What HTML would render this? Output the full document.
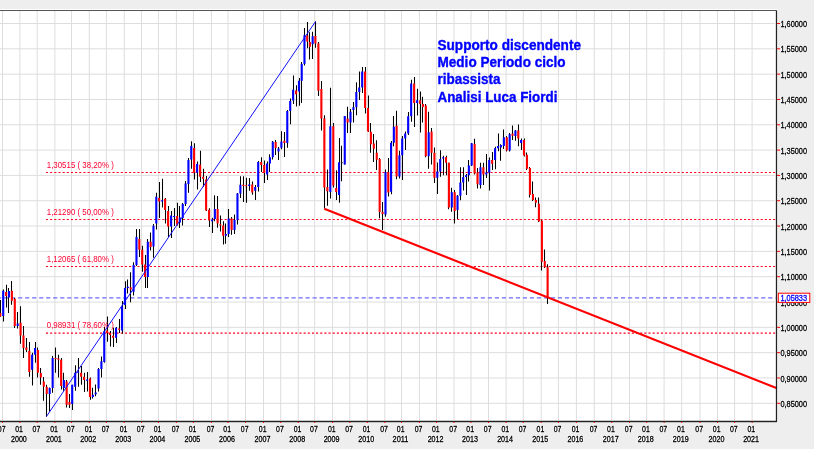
<!DOCTYPE html>
<html><head><meta charset="utf-8"><style>
html,body{margin:0;padding:0;background:#eeeeee;}
body{width:814px;height:449px;overflow:hidden;}
svg{display:block;will-change:transform;}
text{font-family:"Liberation Sans",sans-serif;}
.ax{font-size:8.2px;fill:#000;stroke:#000;stroke-width:0.3px;}
.axh{font-size:8.2px;fill:#fff;stroke:#fff;stroke-width:1.6px;stroke-linejoin:round;opacity:0.8}
.fib{font-size:8.2px;fill:#ff0030;}
.ann{font-size:14.2px;font-weight:bold;fill:#0000ff;stroke:#0000ff;stroke-width:0.35px;}
</style></head><body>
<svg width="814" height="449" viewBox="0 0 814 449">
<rect x="0" y="0" width="814" height="449" fill="#eeeeee"/>
<rect x="0" y="9" width="778" height="413.5" fill="#ffffff"/>
<path d="M2.50 10.5V420.0M19.90 10.5V420.0M37.20 10.5V420.0M54.90 10.5V420.0M71.50 10.5V420.0M89.30 10.5V420.0M106.40 10.5V420.0M124.30 10.5V420.0M141.50 10.5V420.0M158.40 10.5V420.0M176.40 10.5V420.0M193.40 10.5V420.0M211.40 10.5V420.0M228.00 10.5V420.0M245.50 10.5V420.0M263.50 10.5V420.0M280.70 10.5V420.0M298.30 10.5V420.0M314.70 10.5V420.0M332.60 10.5V420.0M349.80 10.5V420.0M367.30 10.5V420.0M384.80 10.5V420.0M401.50 10.5V420.0M419.40 10.5V420.0M436.60 10.5V420.0M454.00 10.5V420.0M471.00 10.5V420.0M488.50 10.5V420.0M506.10 10.5V420.0M523.30 10.5V420.0M541.20 10.5V420.0M558.40 10.5V420.0M576.40 10.5V420.0M594.30 10.5V420.0M611.70 10.5V420.0M629.50 10.5V420.0M646.70 10.5V420.0M664.10 10.5V420.0M681.70 10.5V420.0M700.00 10.5V420.0M717.50 10.5V420.0M734.60 10.5V420.0M752.10 10.5V420.0M0 23.50H774.70M0 48.82H774.70M0 74.14H774.70M0 99.46H774.70M0 124.78H774.70M0 150.10H774.70M0 175.42H774.70M0 200.74H774.70M0 226.06H774.70M0 251.38H774.70M0 276.70H774.70M0 302.02H774.70M0 327.34H774.70M0 352.66H774.70M0 377.98H774.70M0 403.30H774.70" stroke="#dddddd" stroke-width="1" fill="none"/>
<path d="M45.97 172.50H775.70M45.97 219.45H775.70M45.97 266.45H775.70M45.97 333.10H775.70" stroke="#ff0020" stroke-width="1.05" stroke-dasharray="2.1 2.055" fill="none"/>
<path d="M-2.93 297.80H775.70" stroke="#6a6aff" stroke-width="1.35" stroke-dasharray="4.2 2.81" fill="none"/>
<path d="M0.50 300.00V316.80M3.50 289.40V321.40M6.50 284.70V307.40M8.50 288.00V313.00M11.50 281.00V304.70M14.50 298.00V328.00M17.50 312.00V328.50M20.50 306.20V343.70M23.50 326.00V357.90M26.50 338.00V352.00M29.50 342.00V376.80M32.50 352.70V385.50M35.50 342.00V362.70M37.50 347.40V377.50M40.50 368.00V384.70M43.50 377.10V400.80M46.50 384.70V416.80M49.50 387.40V411.50M52.50 356.00V392.70M55.50 347.40V372.80M58.50 354.70V377.50M61.50 358.00V389.50M63.50 372.70V390.70M66.50 380.00V407.50M69.50 394.00V408.10M72.50 384.70V410.10M75.50 365.30V390.70M78.50 358.00V386.70M81.50 366.00V384.70M84.50 372.70V392.10M87.50 372.00V391.40M90.50 377.50V399.80M92.50 387.70V398.60M95.50 384.60V396.30M98.50 368.00V391.60M101.50 356.50V377.60M104.50 327.00V362.80M107.50 316.40V341.80M110.50 331.10V346.50M113.50 327.80V347.10M116.50 327.00V343.10M119.50 319.00V333.10M122.50 301.00V333.80M125.50 281.20V309.00M127.50 279.50V293.40M130.50 272.30V302.30M133.50 262.20V295.60M136.50 229.00V266.00M139.50 229.00V257.10M142.50 245.70V271.80M145.50 255.00V288.00M147.50 239.00V288.00M150.50 232.40V250.40M153.50 224.00V257.80M156.50 192.70V229.50M159.50 182.00V218.10M162.50 178.70V207.40M165.50 198.00V223.50M168.50 206.00V237.10M171.50 211.00V238.10M174.50 208.00V226.00M177.50 202.70V225.50M179.50 206.00V228.10M182.50 203.00V225.60M185.50 181.00V206.00M188.50 158.00V192.80M191.50 141.30V168.70M194.50 143.30V179.40M197.50 161.40V189.50M200.50 150.70V182.10M203.50 168.70V186.80M206.50 176.10V211.00M209.50 208.20V227.10M212.50 217.70V232.90M214.50 195.20V221.30M217.50 196.00V227.80M220.50 215.50V231.40M223.50 221.30V244.50M225.50 223.50V243.80M228.50 209.00V237.00M231.50 217.00V234.70M234.50 214.50V234.00M237.50 193.00V224.60M240.50 176.20V198.00M243.50 176.20V202.00M246.50 177.80V202.80M249.50 178.00V190.80M252.50 181.50V194.70M255.50 185.00V200.00M258.50 161.00V191.60M261.50 157.30V172.10M264.50 160.40V183.00M267.50 161.50V179.90M269.50 154.20V172.10M272.50 140.90V159.60M275.50 140.10V155.00M278.50 146.90V160.00M281.50 131.30V149.30M284.50 132.10V157.10M287.50 110.00V147.70M290.50 98.60V124.30M293.50 75.40V104.00M296.50 85.20V106.60M299.50 78.10V105.70M301.50 62.00V103.00M304.50 28.00V65.60M307.50 22.10V48.30M309.50 32.30V59.40M312.50 31.80V59.00M315.50 21.40V47.80M318.50 42.10V96.10M321.50 81.00V130.40M324.50 115.30V208.60M327.50 169.60V205.80M330.50 87.80V198.50M333.50 123.10V187.60M336.50 170.30V200.00M339.50 137.90V202.80M341.50 145.70V181.20M344.50 116.00V164.50M347.50 106.70V133.00M350.50 109.00V133.00M353.50 101.90V122.40M356.50 82.30V115.20M359.50 71.60V100.00M362.50 67.10V93.00M365.50 67.10V113.50M368.50 95.50V132.00M370.50 123.10V152.70M373.50 134.00V162.10M376.50 140.30V169.90M379.50 158.00V218.30M382.50 202.00V230.00M385.50 169.50V216.80M388.50 157.90V196.50M391.50 141.00V194.20M393.50 116.00V146.30M396.50 110.70V179.30M399.50 150.80V178.40M402.50 136.00V180.00M405.50 131.50V150.00M408.50 111.90V135.00M411.50 79.80V121.70M414.50 77.10V127.00M417.50 88.70V115.40M420.50 91.40V132.40M422.50 96.70V122.60M425.50 104.00V157.20M428.50 111.80V168.80M431.50 128.00V164.40M434.50 147.40V183.00M437.50 162.60V194.00M440.50 150.30V176.80M443.50 155.70V175.30M446.50 155.70V175.30M448.50 162.70V209.20M451.50 187.80V211.80M454.50 190.00V223.40M457.50 195.00V219.00M460.50 167.30V200.30M463.50 167.30V190.40M466.50 174.00V194.90M468.50 160.10V181.50M471.50 143.00V166.00M474.50 138.70V174.40M477.50 168.10V188.60M480.50 162.80V188.60M483.50 162.80V185.10M486.50 153.90V177.90M489.50 157.60V190.40M492.50 152.10V169.90M495.50 146.70V169.30M498.50 133.40V151.30M500.50 144.30V160.70M503.50 129.50V149.00M506.50 136.00V151.50M509.50 133.00V151.50M512.50 125.60V140.00M515.50 130.00V140.70M518.50 124.40V146.20M521.50 138.50V150.10M524.50 138.50V156.50M526.50 152.40V170.00M529.50 167.00V197.40M532.50 181.40V201.00M535.50 197.40V207.20M538.50 197.40V222.00M541.50 220.00V270.40M544.50 249.40V268.00M547.50 264.20V304.00" stroke="#000" stroke-width="1.05" fill="none"/>
<path d="M-0.75 313.00h2.1v3.50h-2.1zM5.05 292.00h2.1v4.00h-2.1zM10.85 290.70h2.1v10.00h-2.1zM13.75 298.70h2.1v27.40h-2.1zM19.55 322.80h2.1v12.80h-2.1zM22.43 335.60h2.1v12.50h-2.1zM25.32 347.40h2.1v2.60h-2.1zM28.20 350.70h2.1v21.40h-2.1zM36.85 350.00h2.1v22.80h-2.1zM39.80 373.00h2.1v4.40h-2.1zM42.75 381.40h2.1v5.30h-2.1zM45.70 386.70h2.1v7.40h-2.1zM54.55 358.00h2.1v1.10h-2.1zM57.32 358.50h2.1v1.20h-2.1zM60.08 359.70h2.1v26.40h-2.1zM65.62 381.40h2.1v23.40h-2.1zM68.38 402.10h2.1v2.70h-2.1zM80.05 372.70h2.1v4.00h-2.1zM83.02 376.70h2.1v3.30h-2.1zM88.95 378.50h2.1v18.50h-2.1zM106.05 330.40h2.1v2.70h-2.1zM109.03 333.10h2.1v2.00h-2.1zM112.02 335.80h2.1v2.00h-2.1zM117.98 328.40h2.1v1.40h-2.1zM129.68 287.30h2.1v2.20h-2.1zM138.28 239.00h2.1v10.70h-2.1zM141.15 249.70h2.1v14.70h-2.1zM143.97 264.40h2.1v12.70h-2.1zM149.60 241.70h2.1v5.40h-2.1zM158.05 198.00h2.1v3.40h-2.1zM164.05 198.70h2.1v11.40h-2.1zM167.05 211.00h2.1v15.60h-2.1zM176.05 216.10h2.1v8.70h-2.1zM193.05 148.00h2.1v24.80h-2.1zM199.05 164.70h2.1v12.10h-2.1zM202.05 176.80h2.1v2.00h-2.1zM205.05 179.40h2.1v31.00h-2.1zM208.05 209.70h2.1v10.80h-2.1zM216.58 209.00h2.1v14.50h-2.1zM219.35 224.20h2.1v1.40h-2.1zM222.12 225.60h2.1v10.20h-2.1zM230.57 218.40h2.1v11.60h-2.1zM242.23 184.80h2.1v1.10h-2.1zM245.15 185.20h2.1v1.00h-2.1zM251.15 184.60h2.1v7.80h-2.1zM260.15 162.00h2.1v3.10h-2.1zM263.15 165.10h2.1v7.80h-2.1zM274.62 142.00h2.1v6.00h-2.1zM283.28 140.70h2.1v2.30h-2.1zM295.02 90.60h2.1v3.60h-2.1zM306.15 35.50h2.1v5.90h-2.1zM308.88 41.90h2.1v4.80h-2.1zM314.35 36.00h2.1v7.50h-2.1zM317.33 43.60h2.1v47.20h-2.1zM320.32 89.00h2.1v29.40h-2.1zM323.30 118.40h2.1v69.20h-2.1zM326.28 187.00h2.1v4.30h-2.1zM332.25 126.20h2.1v59.30h-2.1zM335.12 188.00h2.1v4.00h-2.1zM346.58 118.80h2.1v3.60h-2.1zM364.03 71.60h2.1v36.50h-2.1zM366.95 108.10h2.1v23.40h-2.1zM369.87 131.70h2.1v12.50h-2.1zM372.78 143.40h2.1v5.40h-2.1zM375.70 152.70h2.1v7.10h-2.1zM378.62 159.00h2.1v53.10h-2.1zM381.53 211.80h2.1v2.20h-2.1zM387.23 172.20h2.1v20.40h-2.1zM395.58 125.80h2.1v50.80h-2.1zM413.08 83.40h2.1v19.60h-2.1zM419.05 100.30h2.1v3.60h-2.1zM421.92 104.00h2.1v3.00h-2.1zM424.78 105.60h2.1v50.70h-2.1zM430.52 131.40h2.1v21.40h-2.1zM433.38 152.80h2.1v24.90h-2.1zM444.95 157.30h2.1v5.40h-2.1zM447.85 162.80h2.1v44.60h-2.1zM453.65 192.20h2.1v18.80h-2.1zM473.57 144.10h2.1v29.40h-2.1zM476.48 172.60h2.1v11.60h-2.1zM482.32 167.20h2.1v7.20h-2.1zM491.08 160.10h2.1v3.60h-2.1zM505.75 137.30h2.1v13.30h-2.1zM511.48 133.40h2.1v2.30h-2.1zM517.22 130.60h2.1v7.80h-2.1zM522.95 140.00h2.1v15.60h-2.1zM525.93 154.80h2.1v14.00h-2.1zM528.92 168.00h2.1v26.70h-2.1zM531.90 193.90h2.1v6.20h-2.1zM534.88 200.10h2.1v2.70h-2.1zM537.87 203.70h2.1v17.80h-2.1zM540.85 220.60h2.1v41.20h-2.1zM543.72 261.00h2.1v6.30h-2.1zM546.58 267.30h2.1v30.40h-2.1z" fill="#ff0000"/>
<path d="M2.15 290.70h2.1v25.40h-2.1zM7.95 291.10h2.1v6.30h-2.1zM16.65 323.50h2.1v2.40h-2.1zM31.08 354.70h2.1v15.10h-2.1zM33.97 348.00h2.1v6.70h-2.1zM48.65 388.00h2.1v6.10h-2.1zM51.60 358.00h2.1v30.00h-2.1zM62.85 380.00h2.1v8.00h-2.1zM71.15 384.70h2.1v19.40h-2.1zM74.12 372.70h2.1v14.00h-2.1zM77.08 371.40h2.1v1.30h-2.1zM85.98 379.40h2.1v1.30h-2.1zM91.80 394.70h2.1v2.40h-2.1zM94.65 392.40h2.1v1.90h-2.1zM97.50 369.00h2.1v19.50h-2.1zM100.35 361.20h2.1v7.80h-2.1zM103.20 331.30h2.1v30.70h-2.1zM115.00 327.80h2.1v10.00h-2.1zM120.97 306.40h2.1v24.00h-2.1zM123.95 287.90h2.1v17.10h-2.1zM126.82 286.70h2.1v1.20h-2.1zM132.55 265.00h2.1v26.70h-2.1zM135.42 237.00h2.1v28.00h-2.1zM146.78 241.70h2.1v35.40h-2.1zM152.42 225.70h2.1v20.70h-2.1zM155.23 196.70h2.1v26.80h-2.1zM161.05 200.30h2.1v1.10h-2.1zM170.05 215.50h2.1v11.10h-2.1zM173.05 216.00h2.1v1.00h-2.1zM178.88 217.60h2.1v5.00h-2.1zM181.72 204.10h2.1v13.90h-2.1zM184.55 183.40h2.1v20.70h-2.1zM187.38 160.00h2.1v24.10h-2.1zM190.22 146.00h2.1v13.40h-2.1zM196.05 164.10h2.1v8.70h-2.1zM211.05 219.40h2.1v1.90h-2.1zM213.82 209.00h2.1v10.10h-2.1zM224.88 233.90h2.1v1.90h-2.1zM227.65 218.40h2.1v15.60h-2.1zM233.48 219.90h2.1v10.10h-2.1zM236.40 193.40h2.1v26.50h-2.1zM239.32 184.80h2.1v8.60h-2.1zM248.15 184.60h2.1v1.50h-2.1zM254.15 186.90h2.1v3.90h-2.1zM257.15 162.00h2.1v24.90h-2.1zM266.02 163.50h2.1v11.00h-2.1zM268.88 157.30h2.1v6.20h-2.1zM271.75 141.70h2.1v15.60h-2.1zM277.48 148.50h2.1v3.10h-2.1zM280.35 141.50h2.1v6.20h-2.1zM286.22 111.00h2.1v32.00h-2.1zM289.15 100.90h2.1v10.10h-2.1zM292.08 89.70h2.1v10.70h-2.1zM297.95 80.80h2.1v10.70h-2.1zM300.68 63.90h2.1v16.90h-2.1zM303.42 35.30h2.1v28.60h-2.1zM311.62 36.20h2.1v8.10h-2.1zM329.27 126.20h2.1v65.80h-2.1zM337.98 162.30h2.1v32.60h-2.1zM343.72 116.10h2.1v48.30h-2.1zM349.45 111.70h2.1v10.70h-2.1zM352.37 107.20h2.1v2.70h-2.1zM355.28 92.10h2.1v15.10h-2.1zM358.20 87.60h2.1v4.50h-2.1zM361.12 71.60h2.1v16.00h-2.1zM384.45 172.20h2.1v42.30h-2.1zM390.02 142.80h2.1v49.00h-2.1zM392.80 126.70h2.1v16.10h-2.1zM398.37 155.20h2.1v21.40h-2.1zM401.15 138.50h2.1v16.70h-2.1zM404.13 133.60h2.1v4.90h-2.1zM407.12 116.30h2.1v17.30h-2.1zM410.10 83.40h2.1v32.90h-2.1zM416.07 100.30h2.1v2.70h-2.1zM427.65 132.30h2.1v24.00h-2.1zM436.25 171.50h2.1v6.20h-2.1zM439.15 159.00h2.1v12.50h-2.1zM442.05 157.30h2.1v1.30h-2.1zM450.75 192.20h2.1v15.20h-2.1zM456.48 195.80h2.1v14.20h-2.1zM459.32 182.40h2.1v13.40h-2.1zM462.15 177.10h2.1v5.30h-2.1zM464.98 175.30h2.1v1.80h-2.1zM467.82 165.40h2.1v9.80h-2.1zM470.65 143.20h2.1v22.20h-2.1zM479.40 167.20h2.1v17.90h-2.1zM485.23 172.60h2.1v1.80h-2.1zM488.15 160.10h2.1v12.50h-2.1zM494.02 148.20h2.1v11.70h-2.1zM496.95 145.90h2.1v2.30h-2.1zM499.88 145.10h2.1v2.30h-2.1zM502.82 137.30h2.1v8.60h-2.1zM508.62 134.20h2.1v16.40h-2.1zM514.35 130.60h2.1v5.40h-2.1zM520.08 140.00h2.1v3.10h-2.1z" fill="#0000ff"/>
<path d="M340.85 162.20h2.1v1.00h-2.1z" fill="#333"/>
<text x="46.8" y="167.60" class="fib" textLength="67" lengthAdjust="spacingAndGlyphs">1,30515 ( 38,20% )</text>
<text x="46.8" y="214.55" class="fib" textLength="67" lengthAdjust="spacingAndGlyphs">1,21290 ( 50,00% )</text>
<text x="46.8" y="261.55" class="fib" textLength="67" lengthAdjust="spacingAndGlyphs">1,12065 ( 61,80% )</text>
<text x="46.8" y="328.20" class="fib" textLength="67" lengthAdjust="spacingAndGlyphs">0,98931 ( 78,60% )</text>
<path d="M46.3 416.7L315.6 21.4" stroke="#1010ff" stroke-width="1.0" fill="none"/>
<path d="M324.3 208.7L777 388.3" stroke="#ff0000" stroke-width="2.15" fill="none"/>
<path d="M0 10.5H776.5" stroke="#555" stroke-width="1.2" fill="none"/>
<path d="M776.5 10.5V421.5H0" stroke="#222" stroke-width="1.3" fill="none"/>
<text x="780.40" y="27.10" class="axh" textLength="26.7" lengthAdjust="spacingAndGlyphs">1,60000</text>
<text x="780.40" y="27.10" class="ax" textLength="26.7" lengthAdjust="spacingAndGlyphs">1,60000</text>
<text x="780.40" y="52.42" class="axh" textLength="26.7" lengthAdjust="spacingAndGlyphs">1,55000</text>
<text x="780.40" y="52.42" class="ax" textLength="26.7" lengthAdjust="spacingAndGlyphs">1,55000</text>
<text x="780.40" y="77.74" class="axh" textLength="26.7" lengthAdjust="spacingAndGlyphs">1,50000</text>
<text x="780.40" y="77.74" class="ax" textLength="26.7" lengthAdjust="spacingAndGlyphs">1,50000</text>
<text x="780.40" y="103.06" class="axh" textLength="26.7" lengthAdjust="spacingAndGlyphs">1,45000</text>
<text x="780.40" y="103.06" class="ax" textLength="26.7" lengthAdjust="spacingAndGlyphs">1,45000</text>
<text x="780.40" y="128.38" class="axh" textLength="26.7" lengthAdjust="spacingAndGlyphs">1,40000</text>
<text x="780.40" y="128.38" class="ax" textLength="26.7" lengthAdjust="spacingAndGlyphs">1,40000</text>
<text x="780.40" y="153.70" class="axh" textLength="26.7" lengthAdjust="spacingAndGlyphs">1,35000</text>
<text x="780.40" y="153.70" class="ax" textLength="26.7" lengthAdjust="spacingAndGlyphs">1,35000</text>
<text x="780.40" y="179.02" class="axh" textLength="26.7" lengthAdjust="spacingAndGlyphs">1,30000</text>
<text x="780.40" y="179.02" class="ax" textLength="26.7" lengthAdjust="spacingAndGlyphs">1,30000</text>
<text x="780.40" y="204.34" class="axh" textLength="26.7" lengthAdjust="spacingAndGlyphs">1,25000</text>
<text x="780.40" y="204.34" class="ax" textLength="26.7" lengthAdjust="spacingAndGlyphs">1,25000</text>
<text x="780.40" y="229.66" class="axh" textLength="26.7" lengthAdjust="spacingAndGlyphs">1,20000</text>
<text x="780.40" y="229.66" class="ax" textLength="26.7" lengthAdjust="spacingAndGlyphs">1,20000</text>
<text x="780.40" y="254.98" class="axh" textLength="26.7" lengthAdjust="spacingAndGlyphs">1,15000</text>
<text x="780.40" y="254.98" class="ax" textLength="26.7" lengthAdjust="spacingAndGlyphs">1,15000</text>
<text x="780.40" y="280.30" class="axh" textLength="26.7" lengthAdjust="spacingAndGlyphs">1,10000</text>
<text x="780.40" y="280.30" class="ax" textLength="26.7" lengthAdjust="spacingAndGlyphs">1,10000</text>
<text x="780.40" y="305.62" class="axh" textLength="26.7" lengthAdjust="spacingAndGlyphs">1,05000</text>
<text x="780.40" y="305.62" class="ax" textLength="26.7" lengthAdjust="spacingAndGlyphs">1,05000</text>
<text x="780.40" y="330.94" class="axh" textLength="26.7" lengthAdjust="spacingAndGlyphs">1,00000</text>
<text x="780.40" y="330.94" class="ax" textLength="26.7" lengthAdjust="spacingAndGlyphs">1,00000</text>
<text x="780.40" y="356.26" class="axh" textLength="26.7" lengthAdjust="spacingAndGlyphs">0,95000</text>
<text x="780.40" y="356.26" class="ax" textLength="26.7" lengthAdjust="spacingAndGlyphs">0,95000</text>
<text x="780.40" y="381.58" class="axh" textLength="26.7" lengthAdjust="spacingAndGlyphs">0,90000</text>
<text x="780.40" y="381.58" class="ax" textLength="26.7" lengthAdjust="spacingAndGlyphs">0,90000</text>
<text x="780.40" y="406.90" class="axh" textLength="26.7" lengthAdjust="spacingAndGlyphs">0,85000</text>
<text x="780.40" y="406.90" class="ax" textLength="26.7" lengthAdjust="spacingAndGlyphs">0,85000</text>
<path d="M777.10 23.50H780.10M777.10 48.82H780.10M777.10 74.14H780.10M777.10 99.46H780.10M777.10 124.78H780.10M777.10 150.10H780.10M777.10 175.42H780.10M777.10 200.74H780.10M777.10 226.06H780.10M777.10 251.38H780.10M777.10 276.70H780.10M777.10 302.02H780.10M777.10 327.34H780.10M777.10 352.66H780.10M777.10 377.98H780.10M777.10 403.30H780.10M2.50 421.80V423.00M19.90 421.80V423.00M37.20 421.80V423.00M54.90 421.80V423.00M71.50 421.80V423.00M89.30 421.80V423.00M106.40 421.80V423.00M124.30 421.80V423.00M141.50 421.80V423.00M158.40 421.80V423.00M176.40 421.80V423.00M193.40 421.80V423.00M211.40 421.80V423.00M228.00 421.80V423.00M245.50 421.80V423.00M263.50 421.80V423.00M280.70 421.80V423.00M298.30 421.80V423.00M314.70 421.80V423.00M332.60 421.80V423.00M349.80 421.80V423.00M367.30 421.80V423.00M384.80 421.80V423.00M401.50 421.80V423.00M419.40 421.80V423.00M436.60 421.80V423.00M454.00 421.80V423.00M471.00 421.80V423.00M488.50 421.80V423.00M506.10 421.80V423.00M523.30 421.80V423.00M541.20 421.80V423.00M558.40 421.80V423.00M576.40 421.80V423.00M594.30 421.80V423.00M611.70 421.80V423.00M629.50 421.80V423.00M646.70 421.80V423.00M664.10 421.80V423.00M681.70 421.80V423.00M700.00 421.80V423.00M717.50 421.80V423.00M734.60 421.80V423.00M752.10 421.80V423.00" stroke="#ff0000" stroke-width="1" fill="none"/>
<text x="-2.15" y="431.70" class="axh" textLength="7.7" lengthAdjust="spacingAndGlyphs">07</text>
<text x="-2.15" y="431.70" class="ax" textLength="7.7" lengthAdjust="spacingAndGlyphs">07</text>
<text x="15.25" y="431.70" class="axh" textLength="7.7" lengthAdjust="spacingAndGlyphs">01</text>
<text x="15.25" y="431.70" class="ax" textLength="7.7" lengthAdjust="spacingAndGlyphs">01</text>
<text x="10.95" y="441.90" class="axh" textLength="15.9" lengthAdjust="spacingAndGlyphs">2000</text>
<text x="10.95" y="441.90" class="ax" textLength="15.9" lengthAdjust="spacingAndGlyphs">2000</text>
<text x="32.55" y="431.70" class="axh" textLength="7.7" lengthAdjust="spacingAndGlyphs">07</text>
<text x="32.55" y="431.70" class="ax" textLength="7.7" lengthAdjust="spacingAndGlyphs">07</text>
<text x="50.25" y="431.70" class="axh" textLength="7.7" lengthAdjust="spacingAndGlyphs">01</text>
<text x="50.25" y="431.70" class="ax" textLength="7.7" lengthAdjust="spacingAndGlyphs">01</text>
<text x="45.95" y="441.90" class="axh" textLength="15.9" lengthAdjust="spacingAndGlyphs">2001</text>
<text x="45.95" y="441.90" class="ax" textLength="15.9" lengthAdjust="spacingAndGlyphs">2001</text>
<text x="66.85" y="431.70" class="axh" textLength="7.7" lengthAdjust="spacingAndGlyphs">07</text>
<text x="66.85" y="431.70" class="ax" textLength="7.7" lengthAdjust="spacingAndGlyphs">07</text>
<text x="84.65" y="431.70" class="axh" textLength="7.7" lengthAdjust="spacingAndGlyphs">01</text>
<text x="84.65" y="431.70" class="ax" textLength="7.7" lengthAdjust="spacingAndGlyphs">01</text>
<text x="80.35" y="441.90" class="axh" textLength="15.9" lengthAdjust="spacingAndGlyphs">2002</text>
<text x="80.35" y="441.90" class="ax" textLength="15.9" lengthAdjust="spacingAndGlyphs">2002</text>
<text x="101.75" y="431.70" class="axh" textLength="7.7" lengthAdjust="spacingAndGlyphs">07</text>
<text x="101.75" y="431.70" class="ax" textLength="7.7" lengthAdjust="spacingAndGlyphs">07</text>
<text x="119.65" y="431.70" class="axh" textLength="7.7" lengthAdjust="spacingAndGlyphs">01</text>
<text x="119.65" y="431.70" class="ax" textLength="7.7" lengthAdjust="spacingAndGlyphs">01</text>
<text x="115.35" y="441.90" class="axh" textLength="15.9" lengthAdjust="spacingAndGlyphs">2003</text>
<text x="115.35" y="441.90" class="ax" textLength="15.9" lengthAdjust="spacingAndGlyphs">2003</text>
<text x="136.85" y="431.70" class="axh" textLength="7.7" lengthAdjust="spacingAndGlyphs">07</text>
<text x="136.85" y="431.70" class="ax" textLength="7.7" lengthAdjust="spacingAndGlyphs">07</text>
<text x="153.75" y="431.70" class="axh" textLength="7.7" lengthAdjust="spacingAndGlyphs">01</text>
<text x="153.75" y="431.70" class="ax" textLength="7.7" lengthAdjust="spacingAndGlyphs">01</text>
<text x="149.45" y="441.90" class="axh" textLength="15.9" lengthAdjust="spacingAndGlyphs">2004</text>
<text x="149.45" y="441.90" class="ax" textLength="15.9" lengthAdjust="spacingAndGlyphs">2004</text>
<text x="171.75" y="431.70" class="axh" textLength="7.7" lengthAdjust="spacingAndGlyphs">07</text>
<text x="171.75" y="431.70" class="ax" textLength="7.7" lengthAdjust="spacingAndGlyphs">07</text>
<text x="188.75" y="431.70" class="axh" textLength="7.7" lengthAdjust="spacingAndGlyphs">01</text>
<text x="188.75" y="431.70" class="ax" textLength="7.7" lengthAdjust="spacingAndGlyphs">01</text>
<text x="184.45" y="441.90" class="axh" textLength="15.9" lengthAdjust="spacingAndGlyphs">2005</text>
<text x="184.45" y="441.90" class="ax" textLength="15.9" lengthAdjust="spacingAndGlyphs">2005</text>
<text x="206.75" y="431.70" class="axh" textLength="7.7" lengthAdjust="spacingAndGlyphs">07</text>
<text x="206.75" y="431.70" class="ax" textLength="7.7" lengthAdjust="spacingAndGlyphs">07</text>
<text x="223.35" y="431.70" class="axh" textLength="7.7" lengthAdjust="spacingAndGlyphs">01</text>
<text x="223.35" y="431.70" class="ax" textLength="7.7" lengthAdjust="spacingAndGlyphs">01</text>
<text x="219.05" y="441.90" class="axh" textLength="15.9" lengthAdjust="spacingAndGlyphs">2006</text>
<text x="219.05" y="441.90" class="ax" textLength="15.9" lengthAdjust="spacingAndGlyphs">2006</text>
<text x="240.85" y="431.70" class="axh" textLength="7.7" lengthAdjust="spacingAndGlyphs">07</text>
<text x="240.85" y="431.70" class="ax" textLength="7.7" lengthAdjust="spacingAndGlyphs">07</text>
<text x="258.85" y="431.70" class="axh" textLength="7.7" lengthAdjust="spacingAndGlyphs">01</text>
<text x="258.85" y="431.70" class="ax" textLength="7.7" lengthAdjust="spacingAndGlyphs">01</text>
<text x="254.55" y="441.90" class="axh" textLength="15.9" lengthAdjust="spacingAndGlyphs">2007</text>
<text x="254.55" y="441.90" class="ax" textLength="15.9" lengthAdjust="spacingAndGlyphs">2007</text>
<text x="276.05" y="431.70" class="axh" textLength="7.7" lengthAdjust="spacingAndGlyphs">07</text>
<text x="276.05" y="431.70" class="ax" textLength="7.7" lengthAdjust="spacingAndGlyphs">07</text>
<text x="293.65" y="431.70" class="axh" textLength="7.7" lengthAdjust="spacingAndGlyphs">01</text>
<text x="293.65" y="431.70" class="ax" textLength="7.7" lengthAdjust="spacingAndGlyphs">01</text>
<text x="289.35" y="441.90" class="axh" textLength="15.9" lengthAdjust="spacingAndGlyphs">2008</text>
<text x="289.35" y="441.90" class="ax" textLength="15.9" lengthAdjust="spacingAndGlyphs">2008</text>
<text x="310.05" y="431.70" class="axh" textLength="7.7" lengthAdjust="spacingAndGlyphs">07</text>
<text x="310.05" y="431.70" class="ax" textLength="7.7" lengthAdjust="spacingAndGlyphs">07</text>
<text x="327.95" y="431.70" class="axh" textLength="7.7" lengthAdjust="spacingAndGlyphs">01</text>
<text x="327.95" y="431.70" class="ax" textLength="7.7" lengthAdjust="spacingAndGlyphs">01</text>
<text x="323.65" y="441.90" class="axh" textLength="15.9" lengthAdjust="spacingAndGlyphs">2009</text>
<text x="323.65" y="441.90" class="ax" textLength="15.9" lengthAdjust="spacingAndGlyphs">2009</text>
<text x="345.15" y="431.70" class="axh" textLength="7.7" lengthAdjust="spacingAndGlyphs">07</text>
<text x="345.15" y="431.70" class="ax" textLength="7.7" lengthAdjust="spacingAndGlyphs">07</text>
<text x="362.65" y="431.70" class="axh" textLength="7.7" lengthAdjust="spacingAndGlyphs">01</text>
<text x="362.65" y="431.70" class="ax" textLength="7.7" lengthAdjust="spacingAndGlyphs">01</text>
<text x="358.35" y="441.90" class="axh" textLength="15.9" lengthAdjust="spacingAndGlyphs">2010</text>
<text x="358.35" y="441.90" class="ax" textLength="15.9" lengthAdjust="spacingAndGlyphs">2010</text>
<text x="380.15" y="431.70" class="axh" textLength="7.7" lengthAdjust="spacingAndGlyphs">07</text>
<text x="380.15" y="431.70" class="ax" textLength="7.7" lengthAdjust="spacingAndGlyphs">07</text>
<text x="396.85" y="431.70" class="axh" textLength="7.7" lengthAdjust="spacingAndGlyphs">01</text>
<text x="396.85" y="431.70" class="ax" textLength="7.7" lengthAdjust="spacingAndGlyphs">01</text>
<text x="392.55" y="441.90" class="axh" textLength="15.9" lengthAdjust="spacingAndGlyphs">2011</text>
<text x="392.55" y="441.90" class="ax" textLength="15.9" lengthAdjust="spacingAndGlyphs">2011</text>
<text x="414.75" y="431.70" class="axh" textLength="7.7" lengthAdjust="spacingAndGlyphs">07</text>
<text x="414.75" y="431.70" class="ax" textLength="7.7" lengthAdjust="spacingAndGlyphs">07</text>
<text x="431.95" y="431.70" class="axh" textLength="7.7" lengthAdjust="spacingAndGlyphs">01</text>
<text x="431.95" y="431.70" class="ax" textLength="7.7" lengthAdjust="spacingAndGlyphs">01</text>
<text x="427.65" y="441.90" class="axh" textLength="15.9" lengthAdjust="spacingAndGlyphs">2012</text>
<text x="427.65" y="441.90" class="ax" textLength="15.9" lengthAdjust="spacingAndGlyphs">2012</text>
<text x="449.35" y="431.70" class="axh" textLength="7.7" lengthAdjust="spacingAndGlyphs">07</text>
<text x="449.35" y="431.70" class="ax" textLength="7.7" lengthAdjust="spacingAndGlyphs">07</text>
<text x="466.35" y="431.70" class="axh" textLength="7.7" lengthAdjust="spacingAndGlyphs">01</text>
<text x="466.35" y="431.70" class="ax" textLength="7.7" lengthAdjust="spacingAndGlyphs">01</text>
<text x="462.05" y="441.90" class="axh" textLength="15.9" lengthAdjust="spacingAndGlyphs">2013</text>
<text x="462.05" y="441.90" class="ax" textLength="15.9" lengthAdjust="spacingAndGlyphs">2013</text>
<text x="483.85" y="431.70" class="axh" textLength="7.7" lengthAdjust="spacingAndGlyphs">07</text>
<text x="483.85" y="431.70" class="ax" textLength="7.7" lengthAdjust="spacingAndGlyphs">07</text>
<text x="501.45" y="431.70" class="axh" textLength="7.7" lengthAdjust="spacingAndGlyphs">01</text>
<text x="501.45" y="431.70" class="ax" textLength="7.7" lengthAdjust="spacingAndGlyphs">01</text>
<text x="497.15" y="441.90" class="axh" textLength="15.9" lengthAdjust="spacingAndGlyphs">2014</text>
<text x="497.15" y="441.90" class="ax" textLength="15.9" lengthAdjust="spacingAndGlyphs">2014</text>
<text x="518.65" y="431.70" class="axh" textLength="7.7" lengthAdjust="spacingAndGlyphs">07</text>
<text x="518.65" y="431.70" class="ax" textLength="7.7" lengthAdjust="spacingAndGlyphs">07</text>
<text x="536.55" y="431.70" class="axh" textLength="7.7" lengthAdjust="spacingAndGlyphs">01</text>
<text x="536.55" y="431.70" class="ax" textLength="7.7" lengthAdjust="spacingAndGlyphs">01</text>
<text x="532.25" y="441.90" class="axh" textLength="15.9" lengthAdjust="spacingAndGlyphs">2015</text>
<text x="532.25" y="441.90" class="ax" textLength="15.9" lengthAdjust="spacingAndGlyphs">2015</text>
<text x="553.75" y="431.70" class="axh" textLength="7.7" lengthAdjust="spacingAndGlyphs">07</text>
<text x="553.75" y="431.70" class="ax" textLength="7.7" lengthAdjust="spacingAndGlyphs">07</text>
<text x="571.75" y="431.70" class="axh" textLength="7.7" lengthAdjust="spacingAndGlyphs">01</text>
<text x="571.75" y="431.70" class="ax" textLength="7.7" lengthAdjust="spacingAndGlyphs">01</text>
<text x="567.45" y="441.90" class="axh" textLength="15.9" lengthAdjust="spacingAndGlyphs">2016</text>
<text x="567.45" y="441.90" class="ax" textLength="15.9" lengthAdjust="spacingAndGlyphs">2016</text>
<text x="589.65" y="431.70" class="axh" textLength="7.7" lengthAdjust="spacingAndGlyphs">07</text>
<text x="589.65" y="431.70" class="ax" textLength="7.7" lengthAdjust="spacingAndGlyphs">07</text>
<text x="607.05" y="431.70" class="axh" textLength="7.7" lengthAdjust="spacingAndGlyphs">01</text>
<text x="607.05" y="431.70" class="ax" textLength="7.7" lengthAdjust="spacingAndGlyphs">01</text>
<text x="602.75" y="441.90" class="axh" textLength="15.9" lengthAdjust="spacingAndGlyphs">2017</text>
<text x="602.75" y="441.90" class="ax" textLength="15.9" lengthAdjust="spacingAndGlyphs">2017</text>
<text x="624.85" y="431.70" class="axh" textLength="7.7" lengthAdjust="spacingAndGlyphs">07</text>
<text x="624.85" y="431.70" class="ax" textLength="7.7" lengthAdjust="spacingAndGlyphs">07</text>
<text x="642.05" y="431.70" class="axh" textLength="7.7" lengthAdjust="spacingAndGlyphs">01</text>
<text x="642.05" y="431.70" class="ax" textLength="7.7" lengthAdjust="spacingAndGlyphs">01</text>
<text x="637.75" y="441.90" class="axh" textLength="15.9" lengthAdjust="spacingAndGlyphs">2018</text>
<text x="637.75" y="441.90" class="ax" textLength="15.9" lengthAdjust="spacingAndGlyphs">2018</text>
<text x="659.45" y="431.70" class="axh" textLength="7.7" lengthAdjust="spacingAndGlyphs">07</text>
<text x="659.45" y="431.70" class="ax" textLength="7.7" lengthAdjust="spacingAndGlyphs">07</text>
<text x="677.05" y="431.70" class="axh" textLength="7.7" lengthAdjust="spacingAndGlyphs">01</text>
<text x="677.05" y="431.70" class="ax" textLength="7.7" lengthAdjust="spacingAndGlyphs">01</text>
<text x="672.75" y="441.90" class="axh" textLength="15.9" lengthAdjust="spacingAndGlyphs">2019</text>
<text x="672.75" y="441.90" class="ax" textLength="15.9" lengthAdjust="spacingAndGlyphs">2019</text>
<text x="695.35" y="431.70" class="axh" textLength="7.7" lengthAdjust="spacingAndGlyphs">07</text>
<text x="695.35" y="431.70" class="ax" textLength="7.7" lengthAdjust="spacingAndGlyphs">07</text>
<text x="712.85" y="431.70" class="axh" textLength="7.7" lengthAdjust="spacingAndGlyphs">01</text>
<text x="712.85" y="431.70" class="ax" textLength="7.7" lengthAdjust="spacingAndGlyphs">01</text>
<text x="708.55" y="441.90" class="axh" textLength="15.9" lengthAdjust="spacingAndGlyphs">2020</text>
<text x="708.55" y="441.90" class="ax" textLength="15.9" lengthAdjust="spacingAndGlyphs">2020</text>
<text x="729.95" y="431.70" class="axh" textLength="7.7" lengthAdjust="spacingAndGlyphs">07</text>
<text x="729.95" y="431.70" class="ax" textLength="7.7" lengthAdjust="spacingAndGlyphs">07</text>
<text x="747.45" y="431.70" class="axh" textLength="7.7" lengthAdjust="spacingAndGlyphs">01</text>
<text x="747.45" y="431.70" class="ax" textLength="7.7" lengthAdjust="spacingAndGlyphs">01</text>
<text x="743.15" y="441.90" class="axh" textLength="15.9" lengthAdjust="spacingAndGlyphs">2021</text>
<text x="743.15" y="441.90" class="ax" textLength="15.9" lengthAdjust="spacingAndGlyphs">2021</text>
<rect x="778.3" y="293.20" width="31.5" height="9.2" fill="#fff" stroke="#ff0000" stroke-width="1"/>
<text x="780.4" y="301.30" class="ax" style="fill:#0000ff;stroke:#0000ff" textLength="26.7" lengthAdjust="spacingAndGlyphs">1,05833</text>
<text x="437.5" y="49.70" class="ann" textLength="143.5" lengthAdjust="spacingAndGlyphs">Supporto discendente</text>
<text x="437.5" y="67.00" class="ann" textLength="128.1" lengthAdjust="spacingAndGlyphs">Medio Periodo ciclo</text>
<text x="437.5" y="84.30" class="ann" textLength="62.9" lengthAdjust="spacingAndGlyphs">ribassista</text>
<text x="437.5" y="101.60" class="ann" textLength="119.9" lengthAdjust="spacingAndGlyphs">Analisi Luca Fiordi</text>
</svg>
</body></html>
